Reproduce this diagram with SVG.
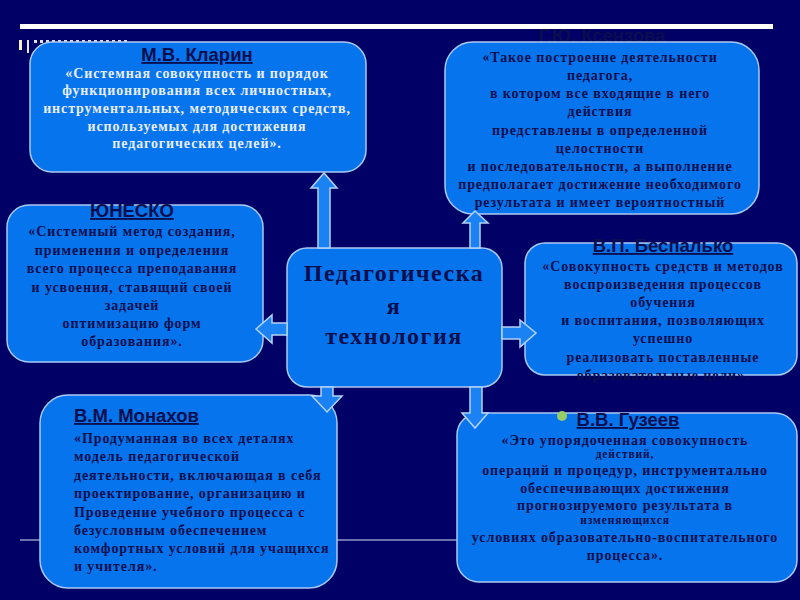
<svg xmlns="http://www.w3.org/2000/svg" width="800" height="600" viewBox="0 0 800 600">
<style>
.box{fill:#0674EC;stroke:#A9C9F5;stroke-width:1.5}
.arr{fill:#1A82F2;stroke:#B5D2F8;stroke-width:1.5;stroke-linejoin:miter}
.ttl{font-family:"Liberation Sans",Arial,sans-serif;font-size:18.5px;font-weight:bold;fill:#0A0E4E;text-decoration:underline}
.body{font-family:"Liberation Serif","Times New Roman",serif;font-weight:bold;font-size:14px;letter-spacing:0.9px;fill:#0A0E4E}
.lt{fill:#E8EEFF}
.sm{font-size:11.5px}
.ctr{font-family:"Liberation Serif","Times New Roman",serif;font-weight:bold;font-size:24px;fill:#0A0E4E;letter-spacing:1.5px}
.c{text-anchor:middle}
</style>
<rect width="800" height="600" fill="#000066"/>
<g id="decor">
<rect x="20" y="24" width="753" height="5" fill="#FFFFFF"/>
<line x1="20" y1="540" x2="780" y2="540" stroke="#8C9AC0" stroke-width="1.5"/>
<rect x="19" y="40" width="3" height="10" fill="#F4F0C0"/>
<rect x="27" y="40" width="2" height="13" fill="#E8E8F0"/>
<line x1="34" y1="41.5" x2="130" y2="41.5" stroke="#E0E0F0" stroke-width="3" stroke-dasharray="3 3"/>
</g>
<g id="node-klarin">
<rect class="box" x="30" y="42" width="336" height="130" rx="22"/>
<text class="ttl c" x="197" y="61">М.В. Кларин</text>
<text class="body lt c"><tspan x="197" y="78">«Системная совокупность и порядок</tspan><tspan x="197" y="95">функционирования всех личностных,</tspan><tspan x="197" y="113">инструментальных, методических средств,</tspan><tspan x="197" y="131">используемых для достижения</tspan><tspan x="197" y="148">педагогических целей».</tspan></text>
</g>
<g id="node-ksenzova">
<text class="ttl c" x="602" y="42">Г.Ю. Ксензова</text>
<rect class="box" x="445" y="42" width="314" height="172" rx="28"/>
<text class="body c"><tspan x="600" y="62">«Такое построение деятельности</tspan><tspan x="600" y="80">педагога,</tspan><tspan x="600" y="98">в котором все входящие в него</tspan><tspan x="600" y="116">действия</tspan><tspan x="600" y="135">представлены в определенной</tspan><tspan x="600" y="153">целостности</tspan><tspan x="600" y="171">и последовательности, а выполнение</tspan><tspan x="600" y="189">предполагает достижение необходимого</tspan><tspan x="600" y="207">результата и имеет вероятностный</tspan></text>
</g>
<g id="node-unesco">
<rect class="box" x="7" y="205" width="256" height="157" rx="22"/>
<text class="ttl c" x="132" y="217">ЮНЕСКО</text>
<text class="body c"><tspan x="132" y="236">«Системный метод создания,</tspan><tspan x="132" y="255">применения и определения</tspan><tspan x="132" y="273">всего процесса преподавания</tspan><tspan x="132" y="292">и усвоения, ставящий своей</tspan><tspan x="132" y="310">задачей</tspan><tspan x="132" y="328">оптимизацию форм</tspan><tspan x="132" y="346">образования».</tspan></text>
</g>
<g id="node-bespalko">
<rect class="box" x="525" y="243" width="272" height="132" rx="20"/>
<text class="ttl c" x="663" y="252">В.П. Беспалько</text>
<text class="body c"><tspan x="663" y="271">«Совокупность  средств и методов</tspan><tspan x="663" y="289">воспроизведения процессов</tspan><tspan x="663" y="307">обучения</tspan><tspan x="663" y="325">и воспитания, позволяющих</tspan><tspan x="663" y="343">успешно</tspan><tspan x="663" y="362">реализовать поставленные</tspan><tspan x="663" y="380">образовательные цели».</tspan></text>
</g>
<g id="node-center">
<rect class="box" x="287" y="248" width="215" height="139" rx="20"/>
<text class="ctr c"><tspan x="394" y="281">Педагогическа</tspan><tspan x="394" y="314">я</tspan><tspan x="394" y="344">технология</tspan></text>
</g>
<g id="node-monakhov">
<rect class="box" x="40" y="395" width="297" height="193" rx="28"/>
<text class="ttl" x="74" y="422">В.М. Монахов</text>
<text class="body"><tspan x="74" y="443">«Продуманная во всех деталях</tspan><tspan x="74" y="461">модель педагогической</tspan><tspan x="74" y="480">деятельности, включающая в себя</tspan><tspan x="74" y="498">проектирование, организацию и</tspan><tspan x="74" y="517">Проведение учебного процесса с</tspan><tspan x="74" y="535">безусловным обеспечением</tspan><tspan x="74" y="553">комфортных условий для учащихся</tspan><tspan x="74" y="571">и учителя».</tspan></text>
</g>
<g id="node-guzeev">
<rect class="box" x="457" y="413" width="340" height="169" rx="22"/>
<circle cx="562" cy="416" r="5" fill="#99CC66"/>
<text class="ttl c" x="628" y="426">В.В. Гузеев</text>
<text class="body c"><tspan x="625" y="445">«Это упорядоченная совокупность</tspan><tspan x="625" y="458" class="sm">действий,</tspan><tspan x="625" y="475">операций и процедур, инструментально</tspan><tspan x="625" y="493">обеспечивающих достижения</tspan><tspan x="625" y="510">прогнозируемого результата в</tspan><tspan x="625" y="524" class="sm">изменяющихся</tspan><tspan x="625" y="542">условиях образовательно-воспитательного</tspan><tspan x="625" y="560">процесса».</tspan></text>
</g>
<g id="connectors">
<polygon class="arr" points="318,248 318,188 311,188 324,173 337,188 330,188 330,248"/>
<polygon class="arr" points="470,248 470,223 463,223 475,211 488,223 480,223 480,248"/>
<polygon class="arr" points="287,323 272,323 272,315 256,329 272,343 272,335 287,335"/>
<polygon class="arr" points="502,327 520,327 520,320 536,333 520,347 520,339 502,339"/>
<polygon class="arr" points="321,387 321,396 312,396 327,412 342,396 333,396 333,387"/>
<polygon class="arr" points="470,387 470,413 462,413 475,428 488,413 482,413 482,387"/>
</g>
</svg>
